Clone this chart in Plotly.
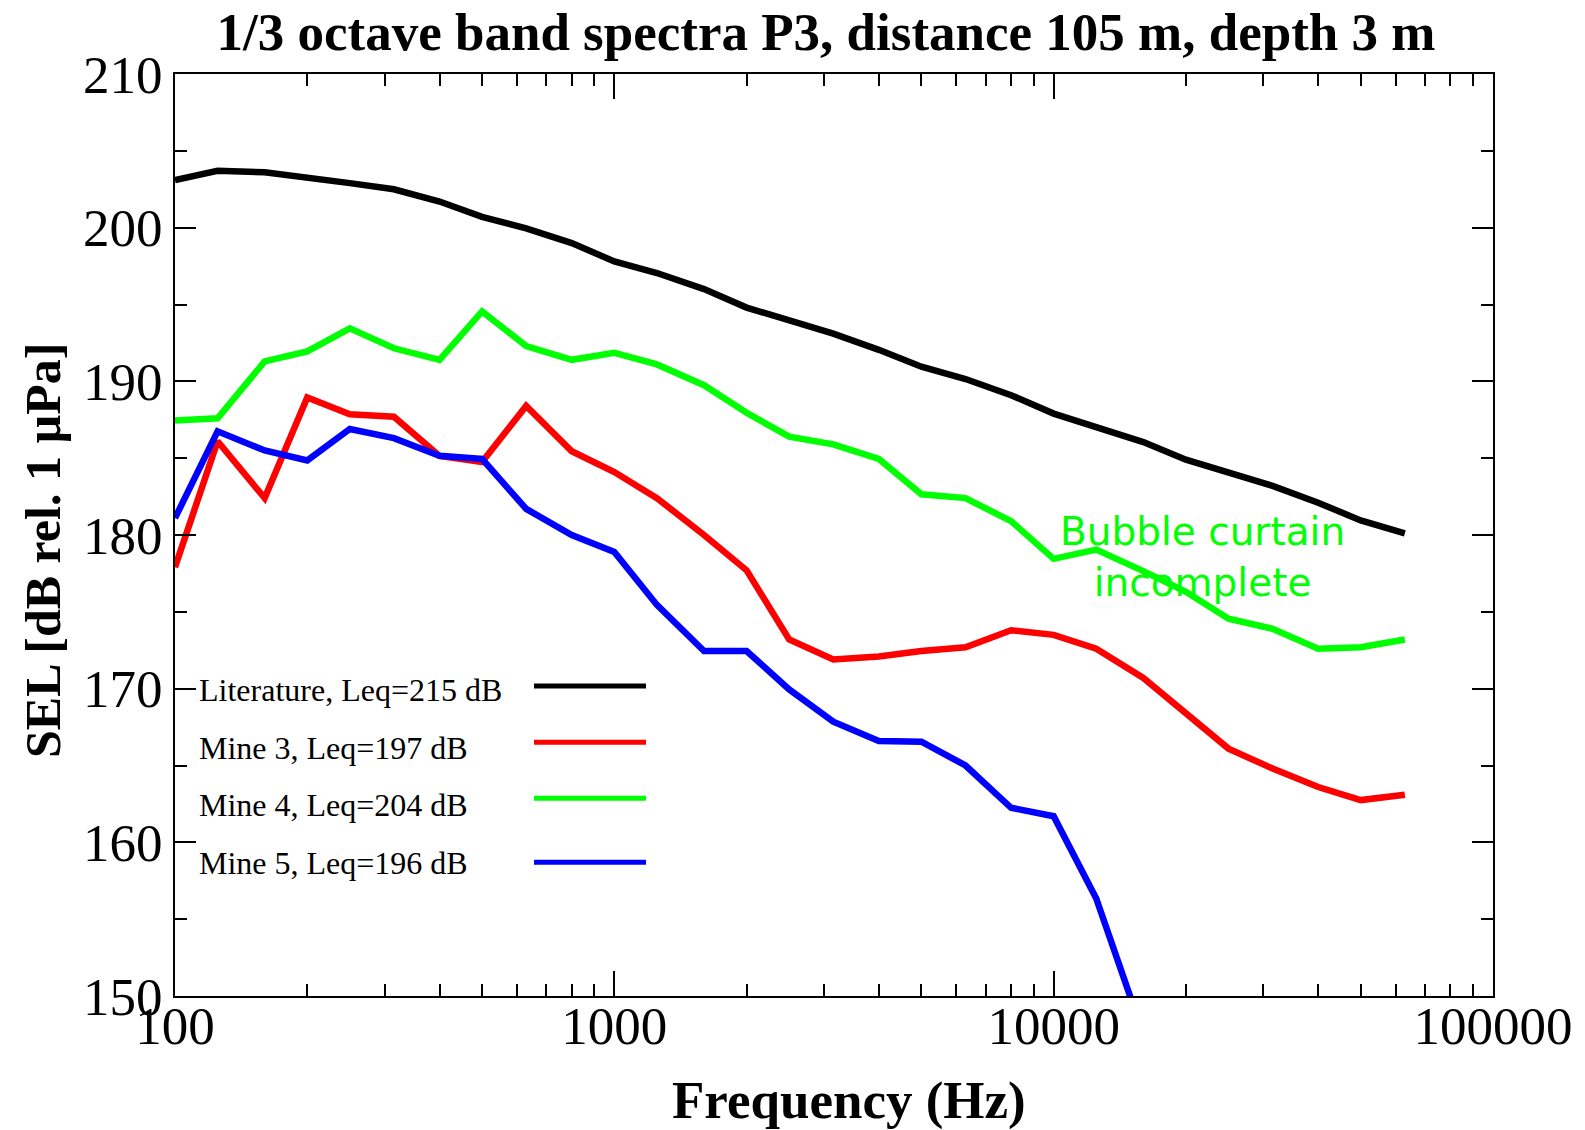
import plotly.graph_objects as go

freq = [100, 125, 160, 200, 250, 315, 400, 500, 630, 800, 1000, 1250, 1600, 2000,
        2500, 3150, 4000, 5000, 6300, 8000, 10000, 12500, 16000, 20000, 25000,
        31500, 40000, 50000, 63000]

literature = [203.1, 203.7, 203.6, 203.3, 202.9, 202.5, 201.7, 200.7, 199.95, 199.0,
              197.8, 197.05, 196.0, 194.8, 194.0, 193.1, 192.05, 190.95, 190.15, 189.1,
              187.9, 187.05, 186.05, 184.9, 184.1, 183.2, 182.1, 180.95, 180.1]

mine3 = [177.9, 186.1, 182.4, 188.95, 187.85, 187.7, 185.15, 184.75, 188.4, 185.45,
         184.1, 182.4, 180.0, 177.7, 173.2, 171.9, 172.1, 172.45, 172.7, 173.8,
         173.5, 172.6, 170.7, 168.45, 166.1, 164.8, 163.6, 162.75, 163.1]

mine4 = [187.45, 187.6, 191.3, 191.95, 193.45, 192.15, 191.4, 194.55, 192.3, 191.4,
         191.85, 191.1, 189.75, 187.95, 186.4, 185.9, 184.95, 182.65, 182.4, 180.9,
         178.45, 179.05, 177.65, 176.3, 174.55, 173.9, 172.6, 172.7, 173.2]

mine5_freq = freq[:23]
mine5 = [181.1, 186.75, 185.5, 184.85, 186.9, 186.3, 185.15, 184.95, 181.7, 180.0,
         178.9, 175.45, 172.45, 172.45, 169.95, 167.85, 166.6, 166.55, 165.0, 162.25,
         161.7, 156.35, 147.5]

series_names = ["Literature, Leq=215 dB", "Mine 3, Leq=197 dB",
                "Mine 4, Leq=204 dB", "Mine 5, Leq=196 dB"]
series_colors = ["#000000", "#ff0000", "#00ff00", "#0000ff"]
series_x = [freq, freq, freq, mine5_freq]
series_y = [literature, mine3, mine4, mine5]

title_text = "1/3 octave band spectra P3, distance 105 m, depth 3 m"
x_title = "Frequency (Hz)"
y_title = "SEL [dB rel. 1 µPa]"
note_text = "Bubble curtain<br>incomplete"
x_tickvals = [100, 1000, 10000, 100000]
x_ticktext = ["100", "1000", "10000", "100000"]

W, H = 1585, 1130
L, R, T, B = 175, 1493, 74, 996
pw, ph = R - L, B - T

serif = "Liberation Serif, Times New Roman, serif"

fig = go.Figure()
for xs, ys, name, col in zip(series_x, series_y, series_names, series_colors):
    fig.add_trace(go.Scatter(x=xs, y=ys, mode="lines", name=name,
                             line=dict(color=col, width=6.5), showlegend=False))

def px_x(p):
    return (p - L) / pw

def px_y(p):
    return (B - p) / ph

# legend (text left, line sample right, as in the original)
legend_text_y = [690, 747.5, 805, 862.5]
legend_line_y = [686, 742.3, 798.3, 862.3]
for name, col, ty, ly in zip(series_names, series_colors, legend_text_y, legend_line_y):
    fig.add_annotation(x=px_x(197), y=px_y(ty), xref="paper", yref="paper",
                       text=name, showarrow=False, xanchor="left", yanchor="middle",
                       font=dict(family=serif, size=32, color="black"))
    fig.add_shape(type="line", xref="paper", yref="paper",
                  x0=px_x(534), x1=px_x(646), y0=px_y(ly), y1=px_y(ly),
                  line=dict(color=col, width=5))

fig.add_annotation(x=px_x(1202), y=px_y(557), xref="paper", yref="paper",
                   text=note_text, showarrow=False, xanchor="center", yanchor="middle",
                   font=dict(family="DejaVu Sans", size=39, color="#00ff00"))

fig.add_annotation(x=px_x(43), y=px_y(551), xref="paper", yref="paper",
                   text="<b>" + y_title + "</b>", showarrow=False, textangle=-90,
                   xanchor="center", yanchor="middle",
                   font=dict(family=serif, size=50, color="black"))

fig.add_annotation(x=px_x(849), y=px_y(1100), xref="paper", yref="paper",
                   text="<b>" + x_title + "</b>", showarrow=False,
                   xanchor="center", yanchor="middle",
                   font=dict(family=serif, size=53, color="black"))

fig.update_layout(
    width=W, height=H,
    margin=dict(l=L, r=W - R, t=T, b=H - B, autoexpand=False),
    paper_bgcolor="white", plot_bgcolor="white",
    title=dict(text="<b>" + title_text + "</b>", x=826 / W, xanchor="center",
               y=1 - 31 / H, yanchor="middle", yref="container",
               font=dict(family=serif, size=53, color="black")),
    showlegend=False,
)

fig.update_xaxes(
    type="log", range=[2, 5], tickvals=x_tickvals, ticktext=x_ticktext,
    automargin=False,
    showgrid=False, zeroline=False,
    showline=True, linecolor="black", linewidth=2, mirror="ticks",
    ticks="inside", ticklen=25, tickwidth=2, tickcolor="black",
    tickfont=dict(family=serif, size=53, color="black"),
    ticklabelstandoff=-18,
    minor=dict(ticks="inside", ticklen=12, tickwidth=2, tickcolor="black",
               dtick="D1", showgrid=False),
)
fig.update_yaxes(
    range=[150, 210], dtick=10, tick0=150,
    automargin=False,
    showgrid=False, zeroline=False,
    showline=True, linecolor="black", linewidth=2, mirror="ticks",
    ticks="inside", ticklen=21, tickwidth=2, tickcolor="black",
    tickfont=dict(family=serif, size=53, color="black"),
    ticklabelstandoff=0,
    minor=dict(ticks="inside", ticklen=12, tickwidth=2, tickcolor="black",
               dtick=5, showgrid=False),
)

fig.write_html("out.html", config={"displayModeBar": False},
               post_script="document.body.style.margin='0px';")
